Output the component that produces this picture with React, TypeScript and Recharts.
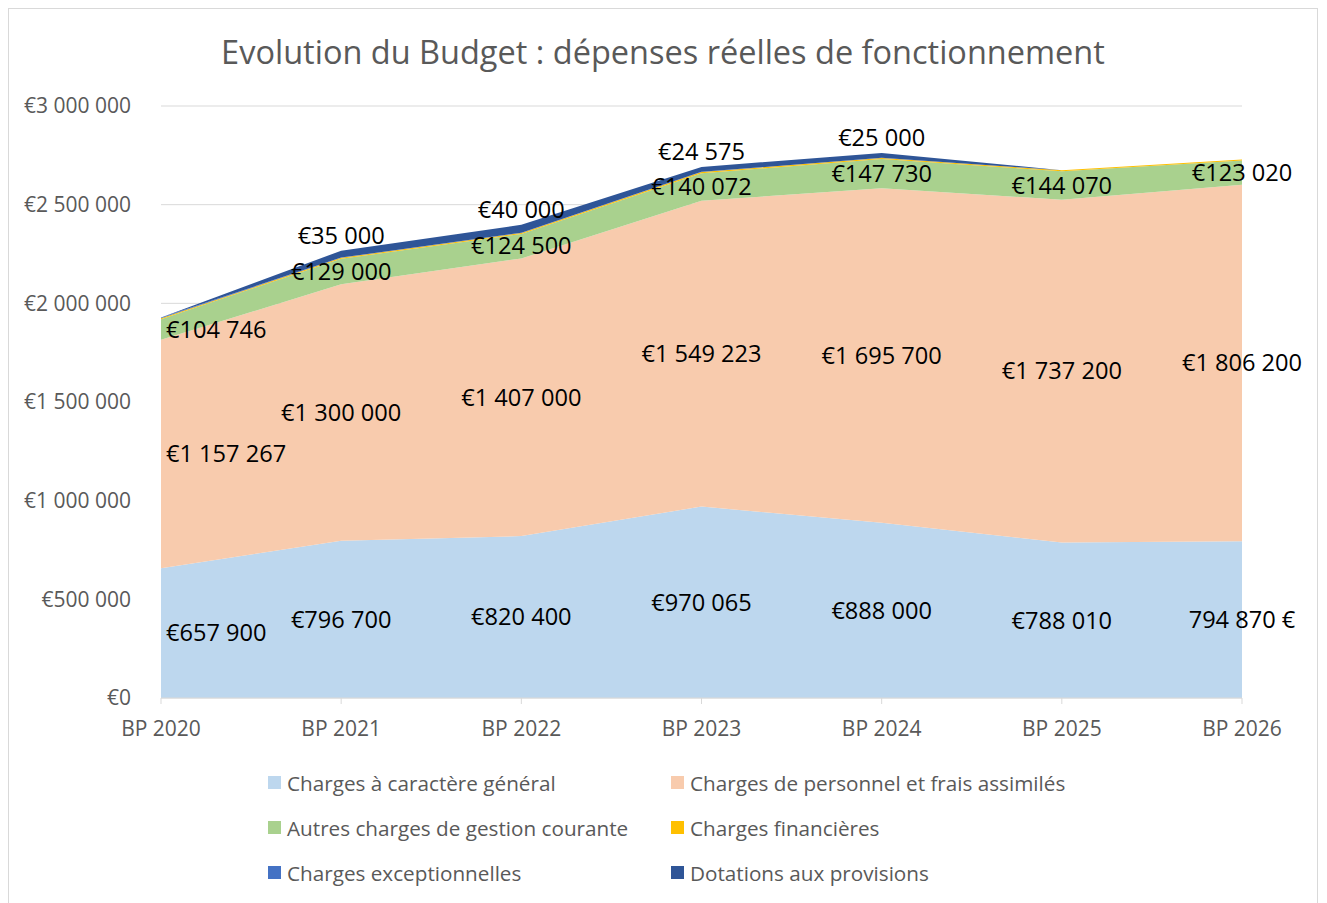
import React from 'react';
import { AreaChart, Area, XAxis, YAxis, CartesianGrid, LabelList } from 'recharts';

const categories = ['BP 2020', 'BP 2021', 'BP 2022', 'BP 2023', 'BP 2024', 'BP 2025', 'BP 2026'];
const general = [657900, 796700, 820400, 970065, 888000, 788010, 794870];
const personnel = [1157267, 1300000, 1407000, 1549223, 1695700, 1737200, 1806200];
const autres = [104746, 129000, 124500, 140072, 147730, 144070, 123020];
const financieres = [4000, 5000, 5000, 6000, 5000, 5000, 5000];
const exceptionnelles = [4000, 1000, 1000, 1000, 1000, 0, 0];
const dotations = [0, 35000, 40000, 24575, 25000, 0, 0];
const yTicks = [0, 500000, 1000000, 1500000, 2000000, 2500000, 3000000];

const Y_MAX = 3000000;
const CHART_W = 1308;
const CHART_H = 898;
const X_AXIS_H = 30;
const MARGIN = { top: 97, right: 75, bottom: 179, left: 0 };
const PLOT_H = CHART_H - MARGIN.top - MARGIN.bottom - X_AXIS_H;
const FONT = '"Open Sans", sans-serif';
const GREY = '#595959';

const data = categories.map((c, i) => ({
  cat: c,
  general: general[i],
  personnel: personnel[i],
  autres: autres[i],
  financieres: financieres[i],
  exceptionnelles: exceptionnelles[i],
  dotations: dotations[i],
}));

const groupDigits = (v: number) => String(v).replace(/\B(?=(\d{3})+(?!\d))/g, ' ');
const euro = (v: number) => (v === 0 ? '€0' : '€' + groupDigits(v));
const euroSuffix = (v: number) => groupDigits(v) + ' €';

const makeLabel = (series: number[], mode: 'mid' | 'above', suffixIndex: number = -1) => (props: any) => {
  const index = props.index;
  const x = props.x ?? props.viewBox?.x;
  const y = props.y ?? props.viewBox?.y;
  const v = series[index];
  if (!v || x == null || y == null) return null;
  const h = (v / Y_MAX) * PLOT_H;
  const ty = mode === 'mid' ? y + h / 2 : y - 15;
  let tx = x;
  let anchor: 'start' | 'middle' = 'middle';
  if (index === 0) {
    anchor = 'start';
    tx = x + 5;
  }
  const text = index === suffixIndex ? euroSuffix(v) : euro(v);
  return (
    <text key={`l-${index}`} x={tx} y={ty} dy="0.35em" textAnchor={anchor} fontSize={23.6} fill="#000" fontFamily={FONT}>
      {text}
    </text>
  );
};

const series = [
  { key: 'general', name: 'Charges à caractère général', color: '#BDD7EE' },
  { key: 'personnel', name: 'Charges de personnel et frais assimilés', color: '#F8CBAD' },
  { key: 'autres', name: 'Autres charges de gestion courante', color: '#A9D18E' },
  { key: 'financieres', name: 'Charges financières', color: '#FFC000' },
  { key: 'exceptionnelles', name: 'Charges exceptionnelles', color: '#4472C4' },
  { key: 'dotations', name: 'Dotations aux provisions', color: '#2F5597' },
];

const LegendBlock = () => (
  <div
    style={{
      position: 'absolute',
      left: 259,
      top: 751,
      display: 'grid',
      gridTemplateColumns: '403px 403px',
      gridAutoRows: '45px',
      fontFamily: FONT,
      fontSize: 20.7,
      color: GREY,
    }}
  >
    {series.map((s) => (
      <div key={s.key} style={{ display: 'flex', alignItems: 'center' }}>
        <span style={{ width: 13, height: 13, background: s.color, display: 'inline-block', marginRight: 6 }} />
        <span>{s.name}</span>
      </div>
    ))}
  </div>
);

export default function App() {
  return (
    <div
      style={{
        position: 'relative',
        width: 1308,
        height: 900,
        border: '1px solid #D9D9D9',
        background: '#fff',
      }}
    >
      <div
        style={{
          position: 'absolute',
          top: 20,
          left: 0,
          width: CHART_W,
          textAlign: 'center',
          fontFamily: FONT,
          fontSize: 32.5,
          color: GREY,
          zIndex: 2,
        }}
      >
        Evolution du Budget : dépenses réelles de fonctionnement
      </div>
      <AreaChart width={CHART_W} height={CHART_H} data={data} margin={MARGIN}>
        <CartesianGrid vertical={false} stroke="#D9D9D9" />
        <XAxis
          dataKey="cat"
          height={X_AXIS_H}
          stroke="#D9D9D9"
          tickSize={6}
          tickMargin={17}
          tick={{ fill: GREY, fontSize: 21, fontFamily: FONT }}
        />
        <YAxis
          width={152}
          domain={[0, Y_MAX]}
          ticks={yTicks}
          axisLine={false}
          tickLine={false}
          tickSize={0}
          tickMargin={30}
          tickFormatter={euro}
          tick={{ fill: GREY, fontSize: 21, fontFamily: FONT }}
        />
        <Area type="linear" dataKey="general" name={series[0].name} stackId="1" stroke="none" fill={series[0].color} fillOpacity={1} isAnimationActive={false}>
          <LabelList dataKey="general" content={makeLabel(general, 'mid', 6)} />
        </Area>
        <Area type="linear" dataKey="personnel" name={series[1].name} stackId="1" stroke="none" fill={series[1].color} fillOpacity={1} isAnimationActive={false}>
          <LabelList dataKey="personnel" content={makeLabel(personnel, 'mid')} />
        </Area>
        <Area type="linear" dataKey="autres" name={series[2].name} stackId="1" stroke="none" fill={series[2].color} fillOpacity={1} isAnimationActive={false}>
          <LabelList dataKey="autres" content={makeLabel(autres, 'mid')} />
        </Area>
        <Area type="linear" dataKey="financieres" name={series[3].name} stackId="1" stroke="none" fill={series[3].color} fillOpacity={1} isAnimationActive={false} />
        <Area type="linear" dataKey="exceptionnelles" name={series[4].name} stackId="1" stroke="none" fill={series[4].color} fillOpacity={1} isAnimationActive={false} />
        <Area type="linear" dataKey="dotations" name={series[5].name} stackId="1" stroke="none" fill={series[5].color} fillOpacity={1} isAnimationActive={false}>
          <LabelList dataKey="dotations" content={makeLabel(dotations, 'above')} />
        </Area>
      </AreaChart>
      <LegendBlock />
    </div>
  );
}
